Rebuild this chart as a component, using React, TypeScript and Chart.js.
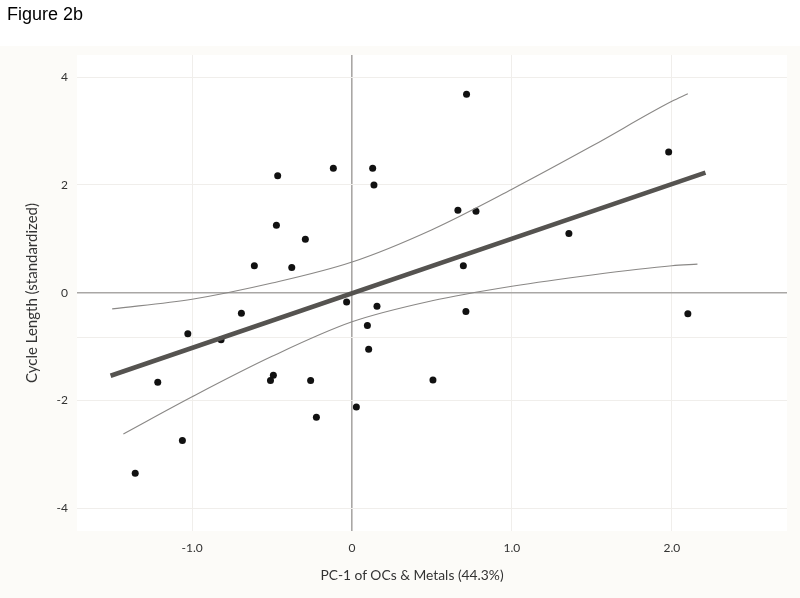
import React, { useEffect, useRef } from 'react';
import { Chart, registerables } from 'chart.js';

Chart.register(...registerables);

// Observed points: PC-1 score (x) and standardized cycle length (y)
const pointX = [
  -0.465, -0.117, 0.129, 0.137, -0.473, -0.292, -0.611, -0.377,
  0.716, 0.662, 0.775, 1.356, 1.98, 0.696,
  -0.034, 0.156, -0.692, -1.027, -0.819, 0.096, 0.104, -1.215,
  -0.492, -0.51, -0.259, -0.223, 0.027, -1.061, 0.712, 2.10, 0.506, -1.356,
];
const pointY = [
  2.17, 2.31, 2.31, 2.0, 1.25, 0.99, 0.50, 0.47,
  3.68, 1.53, 1.51, 1.10, 2.61, 0.50,
  -0.17, -0.25, -0.38, -0.76, -0.87, -0.61, -1.05, -1.66,
  -1.53, -1.63, -1.63, -2.31, -2.12, -2.74, -0.35, -0.39, -1.62, -3.35,
];

// Fitted regression line (endpoints)
const fitX = [-1.51, 2.21];
const fitY = [-1.54, 2.23];

// 95% confidence band curves
const upperX = [-1.5, -1.0, -0.5, 0, 0.5, 1.0, 1.5, 2.0, 2.1];
const upperY = [-0.3, -0.12, 0.18, 0.57, 1.17, 1.92, 2.72, 3.55, 3.69];
const lowerX = [-1.43, -1.0, -0.5, 0, 0.5, 1.0, 1.5, 2.0, 2.16];
const lowerY = [-2.62, -1.93, -1.18, -0.54, -0.15, 0.12, 0.33, 0.5, 0.53];

// Axis ticks
const xTicks = [-1, 0, 1, 2];
const xTickLabels = ['-1.0', '0', '1.0', '2.0'];
const yTicks = [-4, -2, -0.83, 0, 2, 4];
const yTickLabels = ['-4', '-2', '', '0', '2', '4'];

const xTitle = 'PC-1 of OCs & Metals (44.3%)';
const yTitle = 'Cycle Length (standardized)';
const figTitle = 'Figure 2b';

const FONT = 'Lato, "Open Sans", sans-serif';

const zip = (xs: number[], ys: number[]) => xs.map((x, i) => ({ x, y: ys[i] }));

export default function App() {
  const ref = useRef<HTMLCanvasElement>(null);

  useEffect(() => {
    if (!ref.current) return;
    const bgPlugin = {
      id: 'bg',
      beforeDraw(chart: any) {
        const { ctx, chartArea, width, height } = chart;
        ctx.save();
        ctx.fillStyle = '#ffffff';
        ctx.fillRect(0, 0, width, height);
        ctx.fillStyle = '#fcfbf8';
        ctx.fillRect(0, 46, width, height - 46);
        ctx.fillStyle = '#ffffff';
        ctx.fillRect(
          chartArea.left,
          chartArea.top,
          chartArea.right - chartArea.left,
          chartArea.bottom - chartArea.top
        );
        ctx.restore();
      },
    };

    const gridColor = (c: any) => (c.tick && c.tick.value === 0 ? '#a9a7a5' : '#f0eeeb');
    const gridWidth = (c: any) => (c.tick && c.tick.value === 0 ? 1.6 : 1);

    const chart = new Chart(ref.current, {
      type: 'scatter',
      data: {
        datasets: [
          {
            label: 'Fit',
            data: zip(fitX, fitY),
            showLine: true,
            borderColor: '#555350',
            borderWidth: 4.5,
            pointRadius: 0,
            order: 0,
          },
          {
            label: 'Upper',
            data: zip(upperX, upperY),
            showLine: true,
            borderColor: '#8a8886',
            borderWidth: 1.1,
            pointRadius: 0,
            cubicInterpolationMode: 'monotone',
            order: 1,
          },
          {
            label: 'Lower',
            data: zip(lowerX, lowerY),
            showLine: true,
            borderColor: '#8a8886',
            borderWidth: 1.1,
            pointRadius: 0,
            cubicInterpolationMode: 'monotone',
            order: 1,
          },
          {
            label: 'Observed',
            data: zip(pointX, pointY),
            showLine: false,
            backgroundColor: '#111111',
            borderColor: '#111111',
            pointRadius: 3.5,
            borderWidth: 0,
            order: 2,
          },
        ],
      } as any,
      options: {
        responsive: false,
        animation: false,
        layout: { padding: { top: 55, right: 13, bottom: 0, left: 0 } },
        plugins: {
          legend: { display: false },
          tooltip: { enabled: false },
        },
        scales: {
          x: {
            type: 'linear',
            min: -1.72,
            max: 2.72,
            afterBuildTicks: (axis: any) => {
              axis.ticks = xTicks.map((v) => ({ value: v }));
            },
            afterFit: (axis: any) => {
              axis.height = 67;
            },
            border: { display: false },
            grid: { drawTicks: false, color: gridColor, lineWidth: gridWidth },
            ticks: {
              padding: 10,
              color: '#333',
              font: { family: FONT, size: 12 },
              callback: (v: any) => {
                const i = xTicks.indexOf(Number(v));
                return i >= 0 ? xTickLabels[i] : '';
              },
            },
          },
          y: {
            type: 'linear',
            min: -4.42,
            max: 4.41,
            afterBuildTicks: (axis: any) => {
              axis.ticks = yTicks.map((v) => ({ value: v }));
            },
            afterFit: (axis: any) => {
              axis.width = 77;
            },
            border: { display: false },
            grid: { drawTicks: false, color: gridColor, lineWidth: gridWidth },
            ticks: {
              padding: 9,
              color: '#333',
              font: { family: FONT, size: 12 },
              callback: (v: any) => {
                const i = yTicks.indexOf(Number(v));
                return i >= 0 ? yTickLabels[i] : '';
              },
            },
            title: {
              display: true,
              text: yTitle,
              color: '#333',
              font: { family: FONT, size: 15 },
              padding: { top: 23, bottom: 0 },
            },
          },
        },
      } as any,
      plugins: [bgPlugin],
    });
    return () => chart.destroy();
  }, []);

  return (
    <div
      style={{
        position: 'fixed',
        left: 0,
        top: 0,
        width: 800,
        height: 598,
        background: '#fff',
        overflow: 'hidden',
      }}
    >
      <canvas
        ref={ref}
        width={800}
        height={598}
        style={{ position: 'absolute', left: 0, top: 0, width: 800, height: 598 }}
      />
      <div
        style={{
          position: 'absolute',
          left: 7,
          top: 5,
          font: '18px "Liberation Sans", Arial, sans-serif',
          lineHeight: 1,
          color: '#000',
          whiteSpace: 'nowrap',
        }}
      >
        {figTitle}
      </div>
      <div
        style={{
          position: 'absolute',
          left: 412,
          top: 568,
          transform: 'translateX(-50%)',
          font: `13.8px ${FONT}`,
          lineHeight: 1,
          color: '#333',
          whiteSpace: 'nowrap',
        }}
      >
        {xTitle}
      </div>
    </div>
  );
}
